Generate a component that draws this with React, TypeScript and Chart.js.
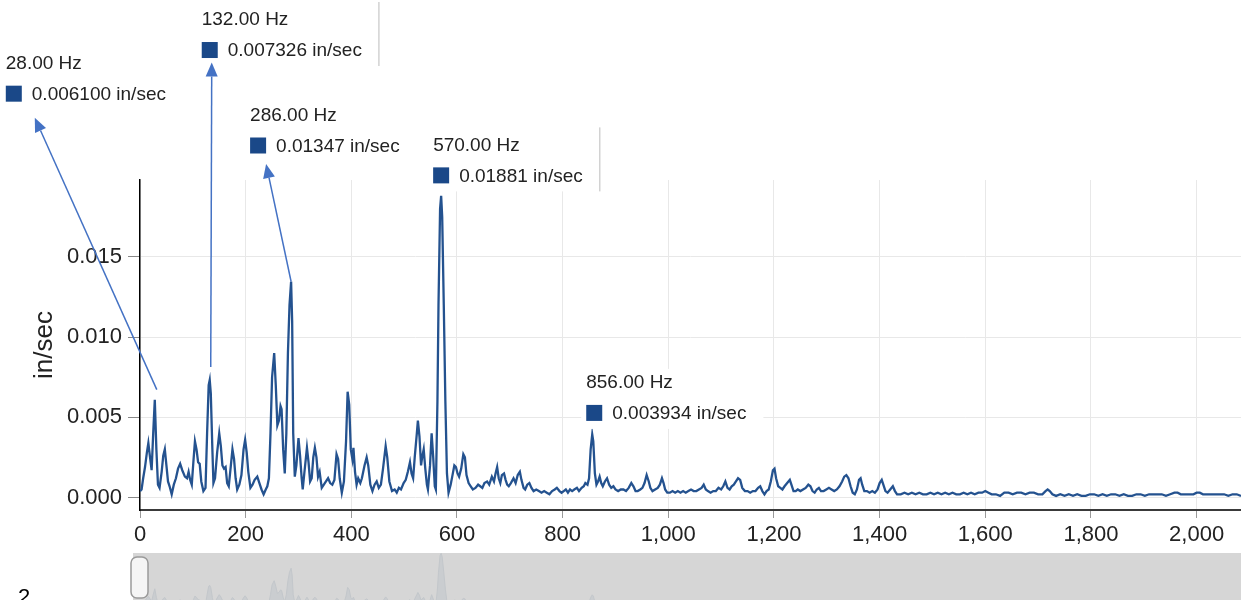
import React, { useEffect, useRef } from 'react';
import { Chart, registerables } from 'chart.js';

Chart.register(...registerables);

const FONT = '"Liberation Sans", Arial, sans-serif';

// Spectrum: frequency (Hz) and velocity amplitude (in/sec)
const FREQ_HZ = [
  0, 3, 6, 9.5, 13, 15.8, 19, 22, 25, 28, 31, 34, 37, 41, 44, 47, 50, 53, 56, 60,
  64, 68, 72, 76, 80, 85, 89, 92, 95, 98, 101, 104, 107, 110, 113, 116, 120, 124, 127, 130,
  132, 134, 137, 139, 142, 146, 150, 153, 156, 159, 162, 165, 168, 172, 175, 178, 181, 184, 188, 192,
  196, 199, 202, 205, 209, 213, 217, 222, 226, 230, 234, 238, 241, 244, 247, 250, 254, 257, 260, 263,
  266, 268, 271, 274, 277, 280, 283, 286, 288, 290, 293, 296, 300, 303, 306, 308, 311, 316, 319, 322,
  325, 328, 331, 334, 337, 340, 344, 348, 352, 356, 360, 364, 368, 372, 375, 378, 382, 386, 390, 393,
  396, 399, 402, 404, 407, 410, 413, 417, 420, 425, 429, 432, 436, 440, 444, 448, 452, 456, 460, 465,
  468, 472, 477, 482, 486, 490, 494, 499, 503, 507, 511, 514, 517, 520, 524, 526, 529, 532, 534, 537,
  540, 543, 545, 549, 552, 555, 558, 560, 563, 565, 568, 570, 572, 575, 578, 581, 584, 588, 591, 595,
  598, 601, 604, 608, 612, 615, 618, 622, 626, 630, 635, 640, 644, 648, 652, 657, 661, 666, 670, 673,
  676, 679, 682, 685, 689, 692, 695, 698, 702, 707, 711, 715, 719, 722, 726, 729, 733, 737, 741, 745,
  750, 755, 760, 765, 770, 775, 780, 785, 789, 794, 798, 802, 806, 810, 814, 818, 822, 827, 831, 836,
  840, 843, 847, 850, 853, 856, 858, 861, 864, 867, 870, 873, 876, 880, 884, 888, 892, 896, 900, 905,
  910, 915, 920, 925, 930, 934, 938, 942, 947, 951, 955, 959, 963, 966, 970, 975, 980, 984, 988, 991,
  994, 998, 1003, 1008, 1013, 1018, 1023, 1028, 1033, 1038, 1043, 1048, 1053, 1058, 1063, 1067, 1071, 1075, 1080, 1085,
  1090, 1095, 1100, 1104, 1108, 1112, 1116, 1120, 1124, 1128, 1132, 1136, 1140, 1145, 1150, 1155, 1160, 1165, 1170, 1174,
  1178, 1182, 1186, 1190, 1194, 1198, 1201, 1204, 1208, 1212, 1216, 1220, 1225, 1230, 1233, 1237, 1241, 1245, 1250, 1255,
  1260, 1265, 1269, 1273, 1277, 1281, 1285, 1289, 1294, 1299, 1304, 1309, 1314, 1319, 1324, 1329, 1333, 1337, 1341, 1345,
  1349, 1353, 1357, 1361, 1364, 1367, 1371, 1376, 1381, 1386, 1391, 1396, 1400, 1404, 1407, 1411, 1415, 1420, 1425, 1429,
  1433, 1440, 1447, 1454, 1461, 1468, 1475, 1482, 1489, 1496, 1503, 1510, 1517, 1524, 1531, 1538, 1545, 1552, 1559, 1566,
  1573, 1580, 1587, 1594, 1600, 1606, 1612, 1620, 1628, 1636, 1644, 1652, 1660, 1668, 1676, 1684, 1692, 1700, 1708, 1714,
  1718, 1722, 1727, 1734, 1742, 1750, 1758, 1766, 1774, 1782, 1790, 1798, 1806, 1814, 1822, 1830, 1838, 1846, 1854, 1862,
  1870, 1878, 1886, 1894, 1902, 1910, 1918, 1926, 1934, 1942, 1950, 1958, 1964, 1970, 1978, 1986, 1994, 2000, 2006, 2012,
  2020, 2028, 2036, 2044, 2052, 2060, 2068, 2076, 2084, 2092,
];

const VELOCITY = [
  0.0004, 0.0005, 0.0012, 0.0019, 0.0028, 0.0034, 0.0025, 0.0017, 0.0040, 0.0061, 0.0030, 0.0008, 0.0006, 0.0016, 0.0026, 0.0030, 0.0020, 0.0010, 0.0007, 0.0002,
  0.0008, 0.0012, 0.0018, 0.0021, 0.0017, 0.0013, 0.0012, 0.0016, 0.0011, 0.0008, 0.0022, 0.0035, 0.0030, 0.0022, 0.0021, 0.0010, 0.0004, 0.0006, 0.0040, 0.0070,
  0.007326, 0.0065, 0.0030, 0.0009, 0.0012, 0.0028, 0.0040, 0.0032, 0.0020, 0.0018, 0.0019, 0.0009, 0.0007, 0.0020, 0.0030, 0.0024, 0.0012, 0.0005, 0.0008, 0.0014,
  0.0030, 0.0036, 0.0028, 0.0016, 0.0006, 0.0008, 0.0011, 0.0013, 0.0009, 0.0005, 0.0002, 0.0005, 0.0007, 0.0012, 0.0040, 0.0075, 0.0090, 0.0070, 0.0045, 0.0048,
  0.0057, 0.0055, 0.0030, 0.0015, 0.0040, 0.0090, 0.0120, 0.01347, 0.0110, 0.0040, 0.0013, 0.0020, 0.0037, 0.0026, 0.0012, 0.0005, 0.0015, 0.0031, 0.0022, 0.0010,
  0.0012, 0.0025, 0.0031, 0.0025, 0.0013, 0.0016, 0.0006, 0.0008, 0.0010, 0.0012, 0.0009, 0.0008, 0.0011, 0.0027, 0.0024, 0.0012, 0.0003, 0.0010, 0.0035, 0.0066,
  0.0058, 0.0030, 0.0024, 0.0031, 0.0016, 0.0008, 0.0012, 0.0009, 0.0012, 0.0020, 0.0025, 0.0020, 0.0008, 0.0004, 0.0008, 0.0010, 0.0006, 0.0008, 0.0018, 0.0032,
  0.0025, 0.0010, 0.0004, 0.0005, 0.0003, 0.0006, 0.0005, 0.0009, 0.0011, 0.0016, 0.0022, 0.0015, 0.0012, 0.0025, 0.0040, 0.0048, 0.0038, 0.0020, 0.0025, 0.0030,
  0.0018, 0.0008, 0.0005, 0.0020, 0.0040, 0.0025, 0.0007, 0.0005, 0.0060, 0.0120, 0.0180, 0.01881, 0.0175, 0.0120, 0.0060, 0.0015, 0.0003, 0.0008, 0.0013, 0.0020,
  0.0019, 0.0015, 0.0013, 0.0018, 0.0027, 0.0025, 0.0014, 0.0009, 0.0007, 0.0005, 0.0006, 0.0008, 0.0007, 0.0006, 0.0009, 0.0010, 0.0008, 0.0013, 0.0010, 0.0015,
  0.0019, 0.0012, 0.0009, 0.0014, 0.0015, 0.0011, 0.0008, 0.0007, 0.0009, 0.0012, 0.0009, 0.0014, 0.0016, 0.0011, 0.0006, 0.0005, 0.0008, 0.0009, 0.0006, 0.0004,
  0.0005, 0.0004, 0.0003, 0.0004, 0.0003, 0.0002, 0.0004, 0.0005, 0.0006, 0.0004, 0.0003, 0.0004, 0.0005, 0.0003, 0.0005, 0.0004, 0.0005, 0.0006, 0.0004, 0.0006,
  0.0007, 0.0009, 0.0008, 0.0012, 0.0030, 0.003934, 0.0035, 0.0015, 0.0008, 0.0010, 0.0013, 0.0009, 0.0007, 0.0010, 0.0012, 0.0008, 0.0006, 0.0007, 0.0005, 0.0004,
  0.0005, 0.0005, 0.0004, 0.0006, 0.0009, 0.0007, 0.0004, 0.0004, 0.0005, 0.0006, 0.0009, 0.0014, 0.0010, 0.0006, 0.0004, 0.0005, 0.0006, 0.0008, 0.0012, 0.0009,
  0.0005, 0.0003, 0.0003, 0.0004, 0.0003, 0.0004, 0.0003, 0.0004, 0.0003, 0.0004, 0.0005, 0.0004, 0.0004, 0.0005, 0.0006, 0.0008, 0.0005, 0.0004, 0.0003, 0.0004,
  0.0004, 0.0006, 0.0005, 0.0007, 0.0010, 0.0006, 0.0005, 0.0007, 0.0008, 0.0010, 0.0012, 0.0011, 0.0006, 0.0004, 0.0004, 0.0003, 0.0004, 0.0004, 0.0006, 0.0007,
  0.0004, 0.0002, 0.0004, 0.0005, 0.0010, 0.0017, 0.0018, 0.0012, 0.0007, 0.0006, 0.0005, 0.0007, 0.0009, 0.0011, 0.0008, 0.0004, 0.0004, 0.0005, 0.0004, 0.0005,
  0.0006, 0.0008, 0.0007, 0.0004, 0.0003, 0.0005, 0.0006, 0.0004, 0.0004, 0.0005, 0.0006, 0.0005, 0.0004, 0.0005, 0.0007, 0.0010, 0.0013, 0.0014, 0.0012, 0.0007,
  0.0003, 0.0002, 0.0005, 0.0011, 0.0012, 0.0008, 0.0004, 0.0004, 0.0003, 0.0004, 0.0003, 0.0005, 0.0009, 0.0011, 0.0008, 0.0004, 0.0003, 0.0005, 0.0007, 0.0004,
  0.0002, 0.0002, 0.0003, 0.0002, 0.0003, 0.0002, 0.0003, 0.0002, 0.0002, 0.0003, 0.0002, 0.0003, 0.0002, 0.0003, 0.0002, 0.0003, 0.0002, 0.0002, 0.0003, 0.0002,
  0.0003, 0.0002, 0.0003, 0.0003, 0.0004, 0.0003, 0.0002, 0.0002, 0.0001, 0.0003, 0.0003, 0.0002, 0.0003, 0.0003, 0.0002, 0.0003, 0.0003, 0.0002, 0.0002, 0.0004,
  0.0005, 0.0004, 0.0002, 0.0001, 0.0002, 0.0001, 0.0002, 0.0001, 0.0002, 0.0001, 0.0001, 0.0002, 0.0002, 0.0001, 0.0002, 0.0001, 0.0002, 0.0002, 0.0001, 0.0002,
  0.0001, 0.0001, 0.0002, 0.0002, 0.0001, 0.0002, 0.0002, 0.0002, 0.0002, 0.0001, 0.0002, 0.0003, 0.0003, 0.0002, 0.0002, 0.0002, 0.0002, 0.0003, 0.0003, 0.0002,
  0.0002, 0.0002, 0.0002, 0.0002, 0.0002, 0.0001, 0.0002, 0.0002, 0.0001, 0.0002,
];

const X_TICKS = [0, 200, 400, 600, 800, 1000, 1200, 1400, 1600, 1800, 2000];
const Y_TICKS = [0, 0.005, 0.01, 0.015];

// Marked peaks
const PEAK_HZ = [28, 132, 286, 570, 856];
const PEAK_VALUE = [0.0061, 0.007326, 0.01347, 0.01881, 0.003934];
const PEAK_VALUE_TEXT = ['0.006100', '0.007326', '0.01347', '0.01881', '0.003934'];

const Y_TITLE = 'in/sec';
const UNIT = 'in/sec';

// Callout layout (pixel offsets from the peak point / label anchor)
const CALLOUT_LAYOUT = [
  { dx: -149, dy: -337, edge: false, arrow: { tail: [2, -10], head: [29, 55] } },
  { dx: -8, dy: -361, edge: true, arrow: { tail: [1, -13], head: [10, 43.5] } },
  { dx: -41, dy: -167, edge: false, arrow: { tail: [0, 0], head: [16, 49.5] } },
  { dx: -8, dy: -51.5, edge: true, arrow: null },
  { dx: -6, dy: -52.5, edge: false, arrow: null },
];

const LINE_COLOR = '#24528f';
const MARK_COLOR = '#1a4888';
const ARROW_COLOR = '#4472c4';

function drawArrow(ctx: CanvasRenderingContext2D, x0: number, y0: number, x1: number, y1: number) {
  const ang = Math.atan2(y1 - y0, x1 - x0);
  const len = 14;
  const hw = 6;
  const bx = x1 - len * Math.cos(ang);
  const by = y1 - len * Math.sin(ang);
  ctx.strokeStyle = ARROW_COLOR;
  ctx.fillStyle = ARROW_COLOR;
  ctx.lineWidth = 1.5;
  ctx.beginPath();
  ctx.moveTo(x0, y0);
  ctx.lineTo(bx, by);
  ctx.stroke();
  ctx.beginPath();
  ctx.moveTo(x1, y1);
  ctx.lineTo(bx + hw * Math.sin(ang), by - hw * Math.cos(ang));
  ctx.lineTo(bx - hw * Math.sin(ang), by + hw * Math.cos(ang));
  ctx.closePath();
  ctx.fill();
}

const calloutPlugin = {
  id: 'callouts',
  afterDraw(chart: any) {
    const { ctx, scales } = chart;
    ctx.save();
    ctx.font = `19px ${FONT}`;
    ctx.textBaseline = 'middle';
    const items = CALLOUT_LAYOUT.map((c, i) => {
      const px = scales.x.getPixelForValue(PEAK_HZ[i]);
      const py = scales.y.getPixelForValue(PEAK_VALUE[i]);
      const lx = px + c.dx;
      const ly = py + c.dy;
      const hzText = PEAK_HZ[i].toFixed(2) + ' Hz';
      const valText = PEAK_VALUE_TEXT[i] + ' ' + UNIT;
      const tw = Math.max(ctx.measureText(hzText).width, 26 + ctx.measureText(valText).width);
      return { c, px, py, lx, ly, vy: ly + 31, hzText, valText, tw };
    });
    // boxes
    items.forEach((it) => {
      const bx0 = it.lx - 5;
      const bx1 = it.lx + it.tw + 17;
      const by0 = it.ly - 13;
      const by1 = it.vy + 16;
      ctx.fillStyle = '#ffffff';
      ctx.fillRect(bx0, by0, bx1 - bx0, by1 - by0);
      if (it.c.edge) {
        ctx.strokeStyle = '#d2d2d2';
        ctx.lineWidth = 1.5;
        ctx.beginPath();
        ctx.moveTo(bx1, by0 - 4);
        ctx.lineTo(bx1, by1);
        ctx.stroke();
      }
    });
    // texts
    items.forEach((it) => {
      ctx.fillStyle = '#222';
      ctx.textAlign = 'left';
      ctx.fillText(it.hzText, it.lx, it.ly + 1);
      ctx.fillStyle = MARK_COLOR;
      ctx.fillRect(it.lx, it.vy - 8, 16, 16);
      ctx.fillStyle = '#222';
      ctx.fillText(it.valText, it.lx + 26, it.vy + 1);
    });
    // arrows
    items.forEach((it) => {
      const a = it.c.arrow;
      if (!a) return;
      drawArrow(ctx, it.px + a.tail[0], it.py + a.tail[1], it.lx + a.head[0], it.ly + a.head[1]);
    });
    ctx.restore();
  },
};

const navPlugin = {
  id: 'navigator',
  beforeDraw(chart: any) {
    const { ctx, chartArea } = chart;
    ctx.save();
    ctx.fillStyle = '#d6d6d6';
    ctx.fillRect(chartArea.left - 7, 0, chart.width - chartArea.left + 7, chart.height);
    ctx.restore();
  },
  afterDraw(chart: any) {
    const { ctx, chartArea } = chart;
    ctx.save();
    const x = chartArea.left - 9;
    const y = 4;
    const w = 17;
    const h = 41;
    ctx.beginPath();
    (ctx as any).roundRect(x, y, w, h, 6);
    ctx.fillStyle = '#f5f5f5';
    ctx.fill();
    ctx.strokeStyle = '#9a9a9a';
    ctx.lineWidth = 1.5;
    ctx.stroke();
    ctx.restore();
  },
};

export default function App() {
  const mainRef = useRef<HTMLCanvasElement>(null);
  const navRef = useRef<HTMLCanvasElement>(null);

  useEffect(() => {
    const points = FREQ_HZ.map((x, i) => ({ x, y: VELOCITY[i] }));
    const main = new Chart(mainRef.current as HTMLCanvasElement, {
      type: 'line',
      data: {
        datasets: [
          {
            data: points,
            borderColor: LINE_COLOR,
            borderWidth: 2.3,
            pointRadius: 0,
            tension: 0,
            fill: false,
          },
        ],
      },
      options: {
        animation: false,
        responsive: false,
        devicePixelRatio: 1,
        parsing: false,
        layout: { padding: { top: 180, left: 0, right: 0, bottom: 0 } },
        plugins: { legend: { display: false }, tooltip: { enabled: false }, title: { display: false } },
        scales: {
          x: {
            type: 'linear',
            min: 0,
            max: 2084,
            afterFit: (s: any) => {
              s.height = 90;
            },
            afterBuildTicks: (s: any) => {
              s.ticks = X_TICKS.map((v) => ({ value: v }));
            },
            ticks: {
              callback: (v: any) => Number(v).toLocaleString('en-US'),
              font: { size: 22, family: FONT },
              color: '#222',
              maxRotation: 0,
              autoSkip: false,
              padding: 4,
            },
            grid: { color: '#e8e8e8', tickColor: '#999', tickLength: 8, lineWidth: 1 },
            border: { color: '#3a3a3a', width: 2 },
          },
          y: {
            type: 'linear',
            min: -0.00078,
            max: 0.0198,
            afterFit: (s: any) => {
              s.width = 140;
            },
            afterBuildTicks: (s: any) => {
              s.ticks = Y_TICKS.map((v) => ({ value: v }));
            },
            ticks: {
              callback: (v: any) => Number(v).toFixed(3),
              font: { size: 22, family: FONT },
              color: '#222',
              padding: 6,
            },
            grid: { color: '#e8e8e8', tickColor: '#888', tickLength: 12, lineWidth: 1 },
            border: { color: '#000', width: 1.5 },
            title: {
              display: true,
              text: Y_TITLE,
              font: { size: 26, family: FONT },
              color: '#222',
              padding: { top: 29, bottom: 0 },
            },
          },
        },
      },
      plugins: [calloutPlugin],
    } as any);

    const nav = new Chart(navRef.current as HTMLCanvasElement, {
      type: 'line',
      data: {
        datasets: [
          {
            data: points,
            borderColor: '#c3c7cb',
            backgroundColor: '#cacdd0',
            borderWidth: 1,
            pointRadius: 0,
            tension: 0,
            fill: 'start',
          },
        ],
      },
      options: {
        animation: false,
        responsive: false,
        devicePixelRatio: 1,
        parsing: false,
        layout: { padding: { top: 0, left: 140, right: 0, bottom: 0 } },
        plugins: { legend: { display: false }, tooltip: { enabled: false } },
        scales: {
          x: { type: 'linear', display: false, min: 0, max: 2084 },
          y: { type: 'linear', display: false, min: 0.0021, max: 0.0189 },
        },
      },
      plugins: [navPlugin],
    } as any);

    return () => {
      main.destroy();
      nav.destroy();
    };
  }, []);

  return (
    <div
      style={{
        position: 'fixed',
        left: 0,
        top: 0,
        width: 1241,
        height: 600,
        overflow: 'hidden',
        background: '#ffffff',
      }}
    >
      <canvas
        ref={mainRef}
        width={1241}
        height={600}
        style={{ position: 'absolute', left: 0, top: 0 }}
      />
      <canvas
        ref={navRef}
        width={1241}
        height={47}
        style={{ position: 'absolute', left: 0, top: 553 }}
      />
      <div
        style={{
          position: 'absolute',
          left: 18,
          top: 584,
          font: `22px ${FONT}`,
          color: '#000',
          lineHeight: 'normal',
        }}
      >
        2
      </div>
    </div>
  );
}
